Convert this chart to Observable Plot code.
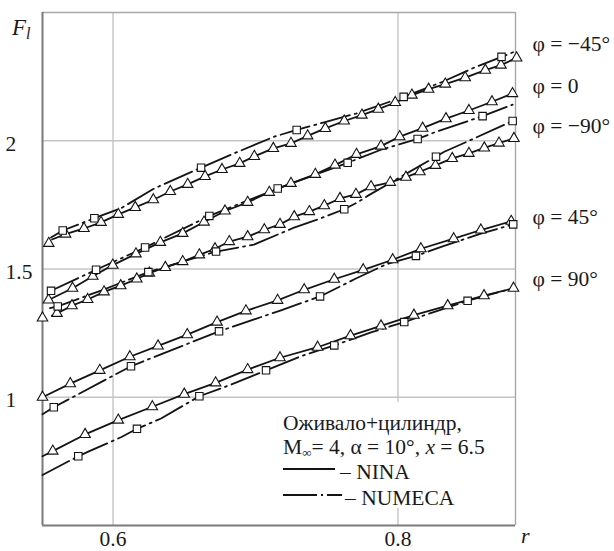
<!DOCTYPE html>
<html><head><meta charset="utf-8">
<script src="https://cdn.jsdelivr.net/npm/d3@7"></script>
<script src="https://cdn.jsdelivr.net/npm/@observablehq/plot@0.6"></script>
<style>
body{margin:0;background:#fff;}
#chart svg{display:block;}
</style></head><body><div id="chart"></div>
<script>
const FONT = "'Liberation Serif','Times New Roman',serif";
const FS = 21.5;

// Axis setup
const xDomain = [0.5505, 0.8825];
const yDomain = [0.5, 2.5];
const xTicks = [0.6, 0.8];
const xTickLabels = ["0.6", "0.8"];
const yTicks = [1, 1.5, 2];
const yTickLabels = ["1", "1.5", "2"];

// Curve labels (right side) and their F anchor
const curveLabels = ["φ = −45°", "φ = 0", "φ = −90°", "φ = 45°", "φ = 90°"];
const curveLabelF = [2.378, 2.214, 2.058, 1.701, 1.462];

// φ = −45°
const ninaM45_r = [0.5572,0.5667,0.5796,0.5916,0.6037,0.6156,0.6283,0.6402,0.6524,0.6646,0.6765,0.6889,0.6992,0.7125,0.7249,0.7366,0.7490,0.7623,0.7747,0.7862,0.7981,0.8098,0.8215,0.8332,0.8472,0.8613,0.8723,0.8833];
const ninaM45_F = [1.615,1.636,1.658,1.682,1.713,1.740,1.770,1.802,1.830,1.861,1.888,1.912,1.939,1.970,1.990,2.019,2.048,2.077,2.100,2.123,2.149,2.178,2.201,2.221,2.246,2.275,2.295,2.323];
const ninaM45_m = [0,1,1,1,1,1,1,1,1,1,1,1,1,1,1,1,1,1,1,1,1,1,1,1,1,1,1,1];
const numecaM45_r = [0.5565,0.5647,0.5869,0.6056,0.6290,0.6618,0.6851,0.7132,0.7289,0.7495,0.7705,0.8040,0.8314,0.8547,0.8727,0.8812];
const numecaM45_F = [1.623,1.650,1.698,1.737,1.814,1.895,1.951,2.016,2.042,2.074,2.106,2.171,2.230,2.288,2.327,2.346];
const numecaM45_m = [0,1,1,0,0,1,0,0,1,0,0,1,0,0,1,0];

// φ = 0
const nina0_r = [0.5547,0.5716,0.5858,0.5998,0.6161,0.6332,0.6489,0.6639,0.6786,0.6945,0.7097,0.7249,0.7420,0.7558,0.7709,0.7881,0.8012,0.8173,0.8337,0.8498,0.8660,0.8804];
const nina0_F = [1.379,1.425,1.472,1.515,1.559,1.604,1.639,1.683,1.726,1.760,1.799,1.834,1.869,1.905,1.947,1.979,2.016,2.049,2.086,2.118,2.152,2.184];
const nina0_m = [1,1,1,1,1,1,1,1,1,1,1,1,1,1,1,1,1,1,1,1,1,1];
const numeca0_r = [0.5565,0.5881,0.6225,0.6676,0.7156,0.7647,0.7881,0.8138,0.8267,0.8594,0.8805];
const numeca0_F = [1.415,1.497,1.584,1.707,1.814,1.914,1.965,2.007,2.035,2.096,2.141];
const numeca0_m = [1,1,1,1,1,1,0,1,0,1,0];

// φ = −90°
const ninaM90_r = [0.5572,0.5607,0.5712,0.5822,0.5937,0.6054,0.6167,0.6255,0.6367,0.6489,0.6606,0.6716,0.6816,0.6945,0.7062,0.7172,0.7272,0.7378,0.7483,0.7593,0.7705,0.7811,0.7946,0.8056,0.8154,0.8263,0.8381,0.8498,0.8606,0.8709,0.8814];
const ninaM90_F = [1.318,1.327,1.357,1.381,1.411,1.435,1.461,1.484,1.506,1.529,1.555,1.579,1.607,1.626,1.653,1.674,1.704,1.724,1.747,1.775,1.791,1.821,1.838,1.858,1.879,1.904,1.931,1.951,1.972,1.991,2.009];
const ninaM90_m = [0,1,1,1,1,1,1,1,1,1,1,1,1,1,1,1,1,1,1,1,1,1,1,1,1,1,1,1,1,1,1];
const numecaM90_r = [0.5558,0.5612,0.5916,0.6248,0.6723,0.6989,0.7261,0.7460,0.7623,0.7717,0.7799,0.8044,0.8267,0.8325,0.8535,0.8805];
const numecaM90_F = [1.347,1.354,1.416,1.488,1.568,1.595,1.659,1.698,1.733,1.760,1.789,1.867,1.938,1.957,2.009,2.077];
const numecaM90_m = [0,1,0,1,1,0,0,0,1,0,0,0,1,0,0,1];

// φ = 45°
const nina45_r = [0.5505,0.5700,0.5907,0.6118,0.6316,0.6521,0.6730,0.6933,0.7155,0.7342,0.7553,0.7756,0.7963,0.8161,0.8391,0.8582,0.8795];
const nina45_F = [1.000,1.053,1.105,1.158,1.200,1.244,1.293,1.337,1.378,1.419,1.460,1.497,1.536,1.579,1.618,1.652,1.686];
const nina45_m = [1,1,1,1,1,1,1,1,1,1,1,1,1,1,1,1,1];
const numeca45_r = [0.5505,0.5584,0.6126,0.6744,0.7179,0.7453,0.7705,0.7916,0.8126,0.8314,0.8582,0.8809];
const numeca45_F = [0.934,0.961,1.121,1.257,1.339,1.393,1.463,1.518,1.551,1.588,1.638,1.674];
const numeca45_m = [0,1,1,1,0,1,0,0,1,0,0,1];

// φ = 90°
const nina90_r = [0.5505,0.5577,0.5804,0.6037,0.6276,0.6500,0.6720,0.6945,0.7172,0.7436,0.7667,0.7881,0.8112,0.8349,0.8604,0.8811];
const nina90_F = [0.770,0.790,0.855,0.911,0.963,1.012,1.056,1.108,1.154,1.195,1.240,1.278,1.320,1.357,1.396,1.425];
const nina90_m = [0,1,1,1,1,1,1,1,1,1,1,1,1,1,1,1];
const numeca90_r = [0.5505,0.5756,0.5834,0.6056,0.6168,0.6337,0.6606,0.6828,0.7074,0.7319,0.7553,0.7811,0.8044,0.8267,0.8489,0.8809];
const numeca90_F = [0.697,0.770,0.790,0.844,0.877,0.917,1.004,1.049,1.105,1.160,1.202,1.253,1.293,1.335,1.376,1.425];
const numeca90_m = [0,1,0,0,1,0,1,0,1,0,1,0,1,0,1,0];

// Isolated NINA points at the left edge
const isolated_r = [0.5549, 0.5505];
const isolated_F = [1.600, 1.309];

function rows(series, r, F, m) {
  return r.map((v, i) => ({series, r: v, F: F[i], marker: m[i]}));
}
const nina = [
  ...rows("m45", ninaM45_r, ninaM45_F, ninaM45_m),
  ...rows("0", nina0_r, nina0_F, nina0_m),
  ...rows("m90", ninaM90_r, ninaM90_F, ninaM90_m),
  ...rows("45", nina45_r, nina45_F, nina45_m),
  ...rows("90", nina90_r, nina90_F, nina90_m)
];
const numeca = [
  ...rows("m45", numecaM45_r, numecaM45_F, numecaM45_m),
  ...rows("0", numeca0_r, numeca0_F, numeca0_m),
  ...rows("m90", numecaM90_r, numecaM90_F, numecaM90_m),
  ...rows("45", numeca45_r, numeca45_F, numeca45_m),
  ...rows("90", numeca90_r, numeca90_F, numeca90_m)
];
const isolated = isolated_r.map((v, i) => ({r: v, F: isolated_F[i]}));
const labels = curveLabels.map((t, i) => ({text: t, F: curveLabelF[i]}));

const INK = "#141414";

const chart = Plot.plot({
  width: 614,
  height: 551,
  marginLeft: 42,
  marginRight: 99,
  marginTop: 12,
  marginBottom: 26,
  style: {fontFamily: FONT, fontSize: FS + "px", background: "white", color: "#1a1a1a", overflow: "visible"},
  x: {domain: xDomain, axis: null},
  y: {domain: yDomain, axis: null},
  marks: [
    Plot.gridX(xTicks, {stroke: "#c4c4c4", strokeOpacity: 1, strokeWidth: 1.4}),
    Plot.gridY(yTicks, {stroke: "#c4c4c4", strokeOpacity: 1, strokeWidth: 1.4}),
    Plot.ruleY([yDomain[1]], {stroke: "#a8a8a8", strokeWidth: 1.4}),
    Plot.ruleX([xDomain[1]], {stroke: "#a8a8a8", strokeWidth: 1.4}),
    Plot.ruleX([xDomain[0]], {stroke: "#7a7a7a", strokeWidth: 2}),
    Plot.ruleY([yDomain[0]], {stroke: "#7a7a7a", strokeWidth: 2}),
    Plot.axisX(xTicks, {tickSize: 0, tickPadding: 5, fontSize: FS, label: null,
      tickFormat: d => xTickLabels[xTicks.indexOf(d)]}),
    Plot.axisY(yTicks, {tickSize: 0, tickPadding: 0, textAnchor: "start", dx: -37, dy: 3, fontSize: FS, label: null,
      tickFormat: d => yTickLabels[yTicks.indexOf(d)]}),
    Plot.line(nina, {x: "r", y: "F", z: "series", stroke: INK, strokeWidth: 1.8}),
    Plot.line(numeca, {x: "r", y: "F", z: "series", stroke: INK, strokeWidth: 1.8, strokeDasharray: "30,5,2,5"}),
    Plot.dot(nina.filter(d => d.marker), {x: "r", y: "F", symbol: "triangle", r: 3.9, fill: "white", stroke: INK, strokeWidth: 1.1}),
    Plot.dot(numeca.filter(d => d.marker), {x: "r", y: "F", symbol: "square", r: 4.2, fill: "white", stroke: INK, strokeWidth: 1.1}),
    Plot.dot(isolated, {x: "r", y: "F", symbol: "triangle", r: 3.9, fill: "white", stroke: INK, strokeWidth: 1.1}),
    Plot.text(labels, {y: "F", text: "text", frameAnchor: "right", textAnchor: "start", dx: 17, fontSize: FS, fill: "#1a1a1a"})
  ]
});
document.getElementById("chart").appendChild(chart);

// Axis titles and legend box
const svg = d3.select(chart);
const ft = svg.append("text").attr("x", 12).attr("y", 35).attr("text-anchor", "start").attr("font-family", FONT).attr("font-size", 23).attr("font-style", "italic").attr("fill", "#1a1a1a");
ft.append("tspan").text("F");
ft.append("tspan").attr("font-size", 16).attr("dy", 4).text("l");
svg.append("text").attr("x", 521).attr("y", 543).attr("text-anchor", "start").attr("font-family", FONT).attr("font-size", 22).attr("font-style", "italic").attr("fill", "#1a1a1a").text("r");

const leg = svg.append("g").attr("font-family", FONT).attr("font-size", FS).attr("fill", "#1a1a1a").attr("text-anchor", "start");
leg.append("rect").attr("x", 279).attr("y", 402).attr("width", 235).attr("height", 106).attr("fill", "white");
leg.append("text").attr("x", 283).attr("y", 422).attr("dy", "0.35em").text("Оживало+цилиндр,");
const l2 = leg.append("text").attr("x", 283).attr("y", 446).attr("dy", "0.35em");
l2.append("tspan").text("M");
l2.append("tspan").attr("font-size", 13).attr("dy", 3).text("∞");
l2.append("tspan").attr("dy", -3).text("= 4, α = 10°, ");
l2.append("tspan").attr("font-style", "italic").text("x");
l2.append("tspan").text(" = 6.5");
leg.append("line").attr("x1", 283).attr("x2", 335).attr("y1", 469).attr("y2", 469).attr("stroke", INK).attr("stroke-width", 1.8);
leg.append("text").attr("x", 340).attr("y", 471).attr("dy", "0.35em").text("– NINA");
leg.append("line").attr("x1", 283).attr("x2", 342).attr("y1", 495).attr("y2", 495).attr("stroke", INK).attr("stroke-width", 1.8).attr("stroke-dasharray", "34,4,2,4");
leg.append("text").attr("x", 345).attr("y", 497).attr("dy", "0.35em").text("– NUMECA");
</script></body></html>
